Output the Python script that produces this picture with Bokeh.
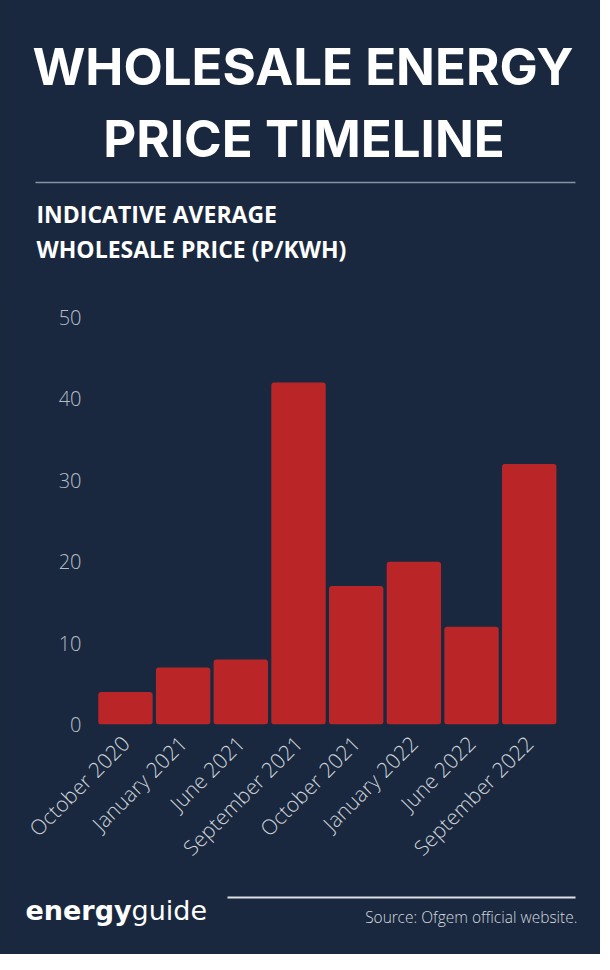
from math import pi
from bokeh.plotting import figure
from bokeh.layouts import column
from bokeh.models import Range1d, FixedTicker, ColumnDataSource, FactorRange
from bokeh.core.properties import value
from bokeh.embed import file_html
from bokeh.resources import INLINE

# ---- data ----
categories = ["October 2020", "January 2021", "June 2021", "September 2021",
              "October 2021", "January 2022", "June 2022", "September 2022"]
prices = [4, 7, 8, 42, 17, 20, 12, 32]
y_ticks = [0, 10, 20, 30, 40, 50]
title_lines = ["WHOLESALE ENERGY", "PRICE TIMELINE"]
subtitle_lines = ["INDICATIVE AVERAGE", "WHOLESALE PRICE (P/KWH)"]
brand_bold, brand_light = "energy", "guide"
source_text = "Source: Ofgem official website."

# ---- style / layout ----
BG = "#19283E"
BAR = "#BA2627"
W = 600
BL, BR = 6, 10            # left / right borders shared by all three panels
LIGHT = "Open Sans Light, Open Sans"
HH, CH, FH = 300, 580, 74  # header, chart, footer heights


def panel(h, y0):
    f = figure(width=W, height=h, x_range=Range1d(BL, W - BR), y_range=Range1d(y0 + h, y0),
               x_axis_location=None, y_axis_location=None, toolbar_location=None,
               output_backend="svg", min_border_left=BL, min_border_right=BR,
               min_border_top=0, min_border_bottom=0,
               background_fill_color=BG, border_fill_color=BG, outline_line_color=None,
               styles={"background-color": BG})
    f.grid.visible = False
    return f


def txt(f, x, y, t, size, font="Open Sans", style="normal", color="white", align="left"):
    f.text(x=[x], y=[y], text=[t], text_font=value(font), text_font_size=value(size),
           text_font_style=value(style), text_color=color, text_align=value(align),
           text_baseline=value("alphabetic"))


# ---- header ----
head = panel(HH, 0)
txt(head, 302.5, 66, title_lines[0], "51px", font="Inter", style="bold", align="center")
txt(head, 303.5, 137.5, title_lines[1], "51px", font="Inter", style="bold", align="center")
head.segment(x0=[35], y0=[182], x1=[575], y1=[182], line_color="#8793A3", line_width=1.5)
txt(head, 36, 213.5, subtitle_lines[0], "23px", style="bold")
txt(head, 36, 248.5, subtitle_lines[1], "23px", style="bold")

# ---- chart ----
# a blank leading slot gives the bars their wide left margin
xr = FactorRange(factors=[" "] + categories, range_padding=0.125)
p = figure(x_range=xr, y_range=Range1d(0, 50), width=W, height=CH,
           output_backend="svg", toolbar_location=None,
           min_border_left=BL, min_border_right=BR,
           min_border_top=17, min_border_bottom=CH - 17 - 407,
           background_fill_color=BG, border_fill_color=BG, outline_line_color=None,
           styles={"background-color": BG})
p.outline_line_color = None

src = ColumnDataSource(dict(cat=categories, val=prices))
p.vbar(x="cat", top="val", width=0.943, source=src, fill_color=BAR, line_color=None,
       border_radius=3)
p.grid.visible = False

p.yaxis.ticker = FixedTicker(ticks=y_ticks)
p.yaxis.axis_line_color = None
p.yaxis.major_tick_line_color = None
p.yaxis.minor_tick_line_color = None
p.yaxis.major_tick_out = 0
p.yaxis.major_tick_in = 0
p.yaxis.major_label_standoff = -75
p.yaxis.major_label_text_font = LIGHT
p.yaxis.major_label_text_font_size = "20px"
p.yaxis.major_label_text_color = "#B4BCC7"

p.xaxis.axis_line_color = None
p.xaxis.major_tick_line_color = None
p.xaxis.major_tick_out = 0
p.xaxis.major_tick_in = 0
p.xaxis.major_label_standoff = 15
p.xaxis.major_label_orientation = pi / 4
p.xaxis.major_label_text_font = LIGHT
p.xaxis.major_label_text_font_size = "21px"
p.xaxis.major_label_text_color = "#CDD2D9"

# ---- footer ----
y0 = HH + CH
foot = panel(FH, y0)
foot.segment(x0=[227], y0=[897], x1=[575], y1=[897], line_color="#DDE1E6", line_width=2)
txt(foot, 25, 909.5, brand_bold, "27px", font="DejaVu Sans", style="bold")
txt(foot, 131, 909.5, brand_light, "27px", font="DejaVu Sans")
txt(foot, 577, 916.5, source_text, "15.5px", font=LIGHT, color="#D3D8DE", align="right")

layout = column(head, p, foot, spacing=0, styles={"background-color": BG})
open("out.html", "w").write(file_html(layout, INLINE))
